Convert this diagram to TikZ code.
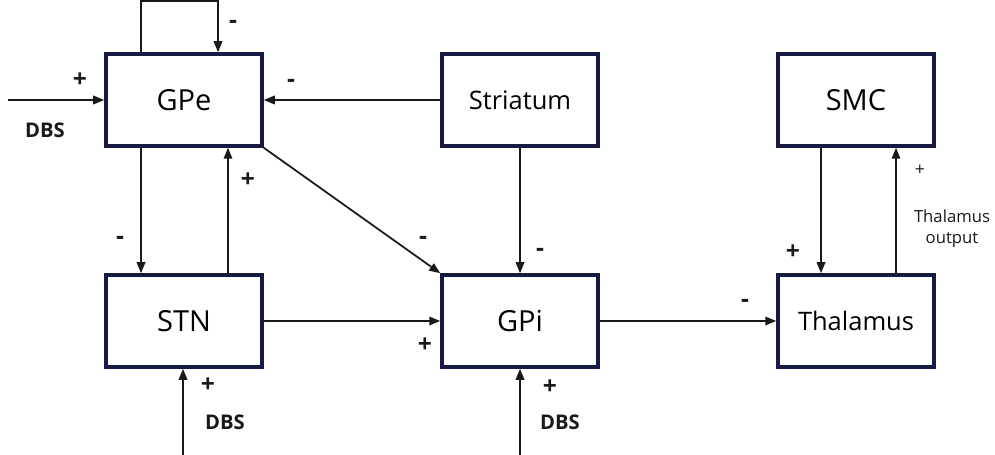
\documentclass[tikz,border=0pt]{standalone}
\usepackage{fontspec}
\setmainfont{Open Sans}
\usepackage{tikz}
\usetikzlibrary{arrows.meta, positioning, calc}
\definecolor{BoxNavy}{RGB}{22, 26, 72}
\definecolor{LineGray}{RGB}{25, 25, 25}

\begin{document}
\begin{tikzpicture}[
    block/.style={draw=BoxNavy, line width=2pt, minimum width=3.12cm, minimum height=1.84cm, inner sep=0pt, font=\fontsize{16.5}{18}\selectfont},
    smallblock/.style={block, font=\fontsize{14.5}{17}\selectfont},
    arr/.style={-{Triangle[length=2.2mm, width=1.7mm]}, line width=1pt, draw=LineGray},
    sgn/.style={font=\bfseries\fontsize{14}{15}\selectfont, text=LineGray},
    dbs/.style={font=\bfseries\fontsize{11.5}{13}\selectfont, text=LineGray}
]
    \useasboundingbox (0,0) rectangle (19.9,9.1);

    % Kerne
    \node[block] (GPe) at (3.68,7.1) {GPe};
    \node[smallblock] (Striatum) at (10.4,7.1) {Striatum};
    \node[block] (SMC) at (17.12,7.1) {SMC};
    \node[block] (STN) at (3.68,2.68) {STN};
    \node[block] (GPi) at (10.4,2.68) {GPi};
    \node[smallblock] (Thalamus) at (17.12,2.68) {Thalamus};

    % freie Enden
    \coordinate (dbsGPe) at (0.16,7.1);
    \coordinate (dbsSTN) at (3.66,0);
    \coordinate (dbsGPi) at (10.4,0);

    % Selbsthemmung GPe
    \draw[arr] ([xshift=-8.6mm]GPe.north) -- ++(0,1.02) -| ([xshift=6.8mm]GPe.north);
    \node[sgn] (sgnLoop) at (4.66,8.62) {-};

    % DBS Eingaenge
    \draw[arr] (dbsGPe) -- (GPe.west);
    \node[sgn] (sgnDbsGPe) at (1.6,7.5) {+};
    \node[dbs] (lblDbsGPe) at (0.9,6.5) {DBS};

    \draw[arr] (dbsSTN) -- (dbsSTN |- STN.south);
    \node[sgn] (sgnDbsSTN) at (4.16,1.4) {+};
    \node[dbs] (lblDbsSTN) at (4.5,0.66) {DBS};

    \draw[arr] (dbsGPi) -- (GPi.south);
    \node[sgn] (sgnDbsGPi) at (11.0,1.36) {+};
    \node[dbs] (lblDbsGPi) at (11.2,0.66) {DBS};

    % Verbindungen der Kerne
    \draw[arr] (Striatum.west) -- (GPe.east);
    \node[sgn] (sgnStrGPe) at (5.82,7.44) {-};

    \draw[arr] ([xshift=-8.6mm]GPe.south) -- ([xshift=-8.6mm]STN.north);
    \node[sgn] (sgnGPeSTN) at (2.4,4.3) {-};

    \draw[arr] ([xshift=8.8mm]STN.north) -- ([xshift=8.8mm]GPe.south);
    \node[sgn] (sgnSTNGPe) at (4.96,5.5) {+};

    \draw[arr] (GPe.south east) -- (GPi.north west);
    \node[sgn] (sgnGPeGPi) at (8.46,4.3) {-};

    \draw[arr] (Striatum.south) -- (GPi.north);
    \node[sgn] (sgnStrGPi) at (10.8,4.06) {-};

    \draw[arr] (STN.east) -- (GPi.west);
    \node[sgn] (sgnSTNGPi) at (8.5,2.2) {+};

    \draw[arr] (GPi.east) -- (Thalamus.west);
    \node[sgn] (sgnGPiThal) at (14.9,3.04) {-};

    % Rueckkopplung Thalamus - SMC
    \draw[arr] ([xshift=-7mm]SMC.south) -- ([xshift=-7mm]Thalamus.north);
    \node[sgn] (sgnSMCThal) at (15.86,4.06) {+};

    \draw[arr] ([xshift=8mm]Thalamus.north) -- ([xshift=8mm]SMC.south);
    \node[font=\fontsize{10}{11}\selectfont, text=LineGray] (sgnThalSMC) at (18.4,5.7) {+};
    \node[font=\fontsize{9.5}{12}\selectfont, text=LineGray, align=center] (lblThalOut) at (19.04,4.52) {Thalamus\\output};
\end{tikzpicture}
\end{document}
